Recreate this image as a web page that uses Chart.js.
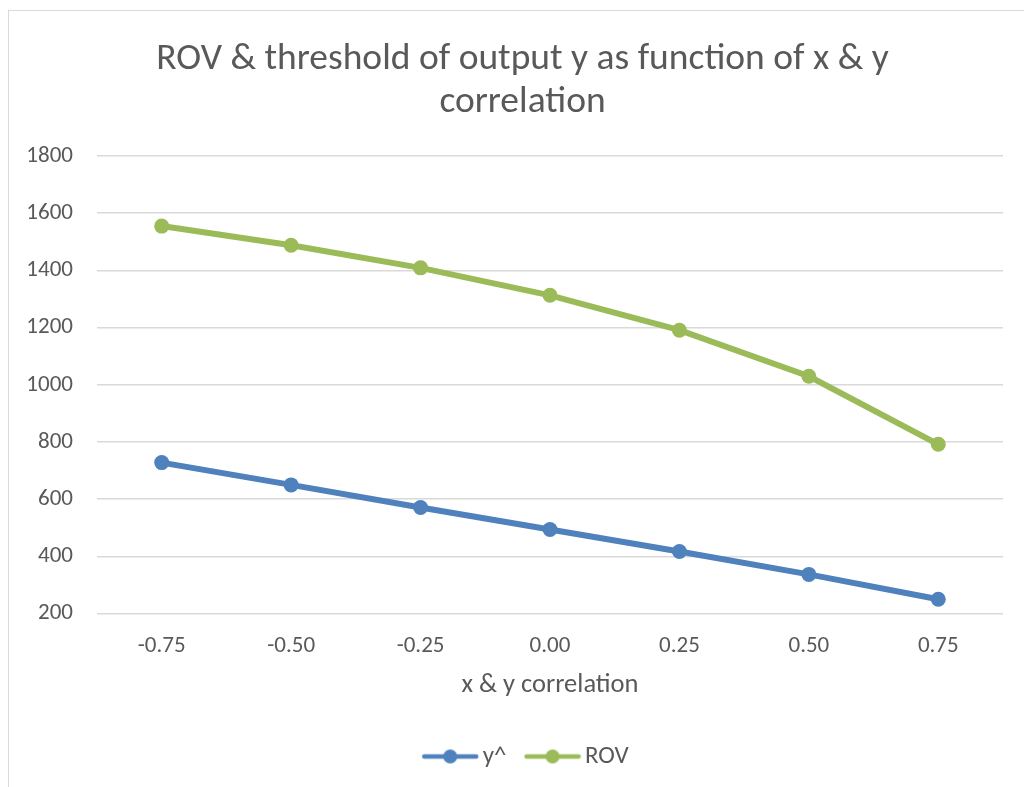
<!DOCTYPE html>
<html>
<head>
<meta charset="utf-8">
<script src="https://cdn.jsdelivr.net/npm/chart.js@4"></script>
<style>
  html,body{margin:0;padding:0;background:#fff;overflow:hidden;width:1024px;height:787px;}
  #frame{position:absolute;left:8px;top:10px;width:1100px;height:900px;border:1.5px solid #d9d9d9;}
  #wrap{position:absolute;left:0;top:0;width:1045px;height:787px;}
</style>
</head>
<body>
<div id="frame"></div>
<div id="wrap"><canvas id="c" width="1045" height="787"></canvas></div>
<script>
const categories = ["-0.75","-0.50","-0.25","0.00","0.25","0.50","0.75"];
const yHat = [728, 650, 571, 494, 417, 337, 250];
const rov = [1555, 1488, 1409, 1313, 1191, 1030, 792];
const yTicks = [200, 400, 600, 800, 1000, 1200, 1400, 1600, 1800];
const titleLines = ["ROV & threshold of output y as function of x & y", "correlation"];
const xTitle = "x & y correlation";
const seriesNames = ["y^", "ROV"];
const colors = ["#4f81bd", "#9bbb59"];

const FONT = "Calibri, Carlito, 'Liberation Sans Narrow', 'Open Sans', sans-serif";
const TXT = "#595959";

function legendIcon(color){
  const cv = document.createElement('canvas');
  cv.width = 58; cv.height = 16;
  const g = cv.getContext('2d');
  g.strokeStyle = color; g.lineWidth = 4.5; g.lineCap = 'round';
  g.beginPath(); g.moveTo(3,8); g.lineTo(55,8); g.stroke();
  g.fillStyle = color; g.beginPath(); g.arc(29,8,7,0,Math.PI*2); g.fill();
  return cv;
}

const legendShift = {
  id: 'legendShift',
  afterLayout(chart) {
    if (chart.legend) { chart.legend.left += 7; chart.legend.right += 7; }
  }
};

new Chart(document.getElementById('c'), {
  type: 'line',
  data: {
    labels: categories,
    datasets: [
      {label: seriesNames[0], data: yHat, borderColor: colors[0], backgroundColor: colors[0],
       borderWidth: 6, pointRadius: 7.5, pointHoverRadius: 7.5, pointStyle: 'circle', tension: 0, pointBorderWidth: 0},
      {label: seriesNames[1], data: rov, borderColor: colors[1], backgroundColor: colors[1],
       borderWidth: 6, pointRadius: 7.5, pointHoverRadius: 7.5, pointStyle: 'circle', tension: 0, pointBorderWidth: 0}
    ]
  },
  plugins: [legendShift],
  options: {
    responsive: false,
    animation: false,
    layout: {padding: {left: 0, right: 0, top: 38, bottom: 8}},
    plugins: {
      title: {display: true, text: titleLines, color: TXT,
        font: {family: FONT, size: 37.5, weight: 'normal', lineHeight: 1.147},
        padding: {top: 0, bottom: 32}},
      legend: {position: 'bottom',
        labels: {color: TXT, font: {family: FONT, size: 25}, usePointStyle: true, pointStyleWidth: 40,
          boxHeight: 16, padding: 26,
          generateLabels: (chart) => chart.data.datasets.map((d, i) => ({
            text: d.label, fillStyle: d.borderColor, strokeStyle: d.borderColor,
            pointStyle: legendIcon(d.borderColor), datasetIndex: i, fontColor: TXT, lineWidth: 0
          }))
        }
      },
      tooltip: {enabled: false}
    },
    scales: {
      x: {
        offset: true,
        grid: {display: false, drawTicks: false},
        border: {display: false},
        ticks: {color: TXT, font: {family: FONT, size: 23}, padding: 19},
        title: {display: true, text: xTitle, color: TXT, font: {family: FONT, size: 26.5}, padding: {top: -10, bottom: 17}}
      },
      y: {
        min: 200, max: 1800,
        afterBuildTicks: (s) => { s.ticks = yTicks.map(v => ({value: v})); },
        afterFit: (s) => { s.width = 97; },
        grid: {color: "#d9d9d9", lineWidth: 1.5, drawTicks: false},
        border: {display: false},
        ticks: {color: TXT, font: {family: FONT, size: 23}, padding: 24, callback: (v) => String(v)}
      },
      yRight: {
        position: 'right',
        display: true,
        grid: {display: false, drawTicks: false},
        border: {display: false},
        ticks: {display: false},
        afterFit: (s) => { s.width = 42; }
      }
    }
  }
});
</script>
</body>
</html>
